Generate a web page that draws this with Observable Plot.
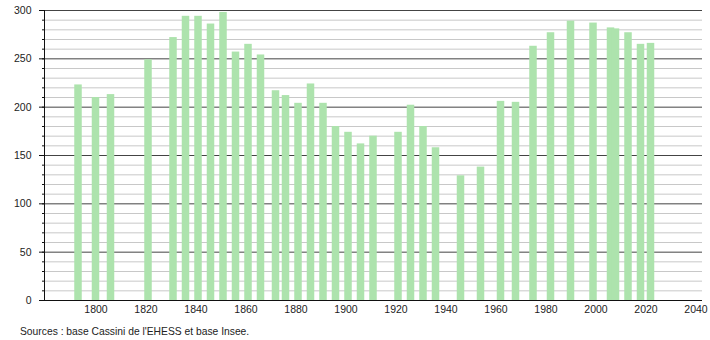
<!DOCTYPE html>
<html>
<head>
<meta charset="utf-8">
<script src="https://cdn.jsdelivr.net/npm/d3@7"></script>
<script src="https://cdn.jsdelivr.net/npm/@observablehq/plot@0.6"></script>
<style>
  body { margin: 0; background: #fff; font-family: "Liberation Sans", Arial, sans-serif; }
  #caption { font-size: 10.3px; color: #222; margin: 7px 0 0 20px; line-height: 14px; }
</style>
</head>
<body>
<div id="chart"></div>
<div id="caption">Sources : base Cassini de l'EHESS et base Insee.</div>
<script>
const years = [1793, 1800, 1806, 1821, 1831, 1836, 1841, 1846, 1851, 1856, 1861, 1866, 1872, 1876, 1881, 1886, 1891, 1896, 1901, 1906, 1911, 1921, 1926, 1931, 1936, 1946, 1954, 1962, 1968, 1975, 1982, 1990, 1999, 2006, 2008, 2013, 2018, 2022];
const population = [223, 210, 213, 249, 272, 294, 294, 286, 298, 257, 265, 254, 217, 212, 204, 224, 204, 180, 174, 162, 170, 174, 202, 180, 158, 129, 138, 206, 205, 263, 277, 289, 287, 282, 281, 277, 265, 266];
const xTicks = [1800, 1820, 1840, 1860, 1880, 1900, 1920, 1940, 1960, 1980, 2000, 2020, 2040];
const yMajor = [0, 50, 100, 150, 200, 250, 300];
const yMinor = d3.range(0, 301, 10);

const data = years.map((y, i) => ({year: y, value: population[i]}));
const xDomain = [1779.4, 2042.6];

const chart = Plot.plot({
  width: 710,
  height: 318,
  marginLeft: 44,
  marginRight: 8,
  marginTop: 10,
  marginBottom: 18,
  style: {fontFamily: "Liberation Sans, Arial, sans-serif", fontSize: "10.5px", color: "#222", background: "#fff"},
  x: {domain: xDomain, label: null},
  y: {domain: [0, 300], label: null},
  marks: [
    Plot.ruleY(yMinor.filter(v => v % 50 !== 0), {stroke: "#c8c8c8", strokeWidth: 1}),
    Plot.ruleY(yMajor.filter(v => v !== 0), {stroke: "#444", strokeWidth: 1}),
    Plot.rectY(data, {x1: d => d.year - 1.5, x2: d => d.year + 1.5, y1: 0, y2: "value", fill: "#ade3ad"}),
    Plot.ruleY([0], {stroke: "#111", strokeWidth: 1}),
    Plot.ruleX([xDomain[0]], {y1: 0, y2: 300, stroke: "#111", strokeWidth: 1}),
    Plot.axisY({ticks: yMinor, tickSize: 2, tickFormat: () => "", stroke: "#111"}),
    Plot.axisY({ticks: yMajor, tickSize: 5, tickPadding: 8, tickFormat: d => String(d), stroke: "#111", fill: "#222"}),
    Plot.axisX({ticks: xTicks, tickSize: 0, tickPadding: 5, tickFormat: d => String(d), fill: "#222"})
  ]
});
document.getElementById("chart").appendChild(chart);
</script>
</body>
</html>
